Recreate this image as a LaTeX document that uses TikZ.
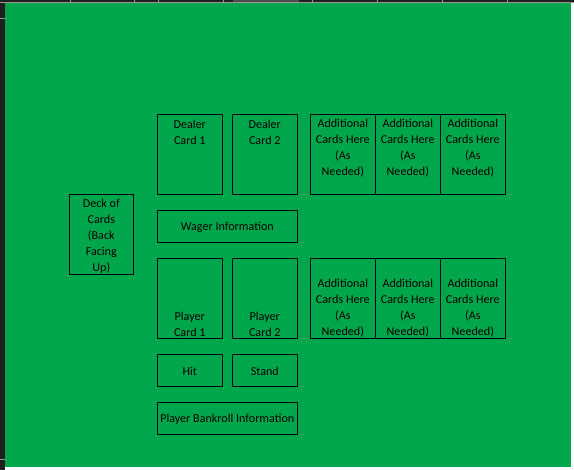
\documentclass[tikz,border=0pt]{standalone}
\usepackage{fontspec}
\setmainfont{Carlito}
\definecolor{felt}{HTML}{00A64B}
\definecolor{hdr}{HTML}{1F1F1F}
\definecolor{grid}{HTML}{9A9A9A}
\begin{document}
\begin{tikzpicture}[x=1pt,y=-1pt,
  box/.style={draw=black, line width=0.9pt, inner sep=0pt},
  card/.style={box, minimum width=65pt, minimum height=80pt},
  wide/.style={box, minimum width=140pt, minimum height=32pt},
  small/.style={box, minimum width=65pt, minimum height=32pt},
  txt/.style={font=\fontsize{12.1}{16}\selectfont, align=center, inner sep=0pt, text=black, yshift=-1pt}]
\useasboundingbox (0,0) rectangle (574,470);
\fill[white] (0,0) rectangle (574,470);
\fill[felt] (4.5,3) rectangle (571,467);
\fill[hdr] (0,0) rectangle (574,2.5);
\fill[hdr] (0,0) rectangle (4.5,470);
\fill[black!70] (233,0) rectangle (299,2.5);
\foreach \gx in {70,134,158,223,312,377,442,507} \draw[grid, line width=0.6pt] (\gx,0) -- (\gx,2.5);
\draw[grid, line width=0.6pt] (0,2.7) -- (574,2.7);
\draw[grid, line width=0.6pt] (0,18) -- (4.5,18);
\draw[grid, line width=0.6pt] (0,459) -- (4.5,459);

% dealer row
\node[card] (dc1) at (189.8,154.3) {};
\node[card] (dc2) at (264.8,154.3) {};
\node[card] (da1) at (342.8,154.3) {};
\node[card] (da2) at (407.8,154.3) {};
\node[card] (da3) at (472.8,154.3) {};
\node[txt] (dc1t) at (189.8,131) {Dealer\\Card 1};
\node[txt] (dc2t) at (264.8,131) {Dealer\\Card 2};
\node[txt] (da1t) at (342.8,147) {Additional\\Cards Here\\(As\\Needed)};
\node[txt] (da2t) at (407.8,147) {Additional\\Cards Here\\(As\\Needed)};
\node[txt] (da3t) at (472.8,147) {Additional\\Cards Here\\(As\\Needed)};

% deck
\node[card, minimum width=64pt, minimum height=79.7pt] (deck) at (101.3,234.2) {};
\node[txt] (deckt) at (101.3,235) {Deck of\\Cards\\(Back\\Facing\\Up)};

% wager
\node[wide] (wager) at (227.3,226.3) {};
\node[txt] (wagert) at (227.3,226.3) {Wager Information};

% player row
\node[card] (pc1) at (189.8,298.3) {};
\node[card] (pc2) at (264.8,298.3) {};
\node[card] (pa1) at (342.8,298.3) {};
\node[card] (pa2) at (407.8,298.3) {};
\node[card] (pa3) at (472.8,298.3) {};
\node[txt] (pc1t) at (189.8,323) {Player\\Card 1};
\node[txt] (pc2t) at (264.8,323) {Player\\Card 2};
\node[txt] (pa1t) at (342.8,307) {Additional\\Cards Here\\(As\\Needed)};
\node[txt] (pa2t) at (407.8,307) {Additional\\Cards Here\\(As\\Needed)};
\node[txt] (pa3t) at (472.8,307) {Additional\\Cards Here\\(As\\Needed)};

% actions
\node[small] (hit) at (189.8,370.3) {};
\node[small] (stand) at (264.8,370.3) {};
\node[txt] (hitt) at (189.8,370.3) {Hit};
\node[txt] (standt) at (264.8,370.3) {Stand};

% bankroll
\node[wide] (bank) at (227.3,418.3) {};
\node[txt] (bankt) at (227.3,418.3) {Player Bankroll Information};
\end{tikzpicture}
\end{document}
